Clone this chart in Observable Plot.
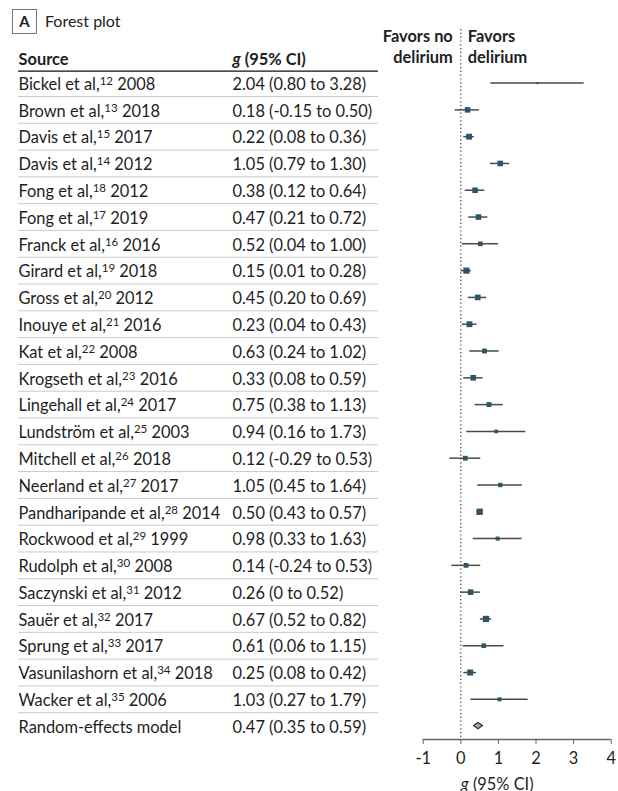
<!DOCTYPE html>
<html><head><meta charset="utf-8">
<script src="https://cdn.jsdelivr.net/npm/d3@7"></script>
<script src="https://cdn.jsdelivr.net/npm/@observablehq/plot@0.6"></script>
<style>
body{margin:0;background:#fff;font-family:Lato,sans-serif;color:#222;}
#wrap{width:618px;height:791px;position:relative;overflow:hidden;}
#title{height:28px;position:relative;}
.tag{position:absolute;left:12px;top:9px;width:25px;height:25px;border:1px solid #777;box-sizing:border-box;font-weight:bold;font-size:15px;text-align:center;line-height:23px;}
.tt{position:absolute;left:45px;top:11px;font-size:16px;}
#row{display:flex;}
#row svg{display:block;}
</style></head>
<body>
<div id="wrap"><div id="title"><span class="tag">A</span><span class="tt">Forest plot</span></div><div id="row"></div></div>
<script>
// ---- data ----
const sources = ["Bickel et al","Brown et al","Davis et al","Davis et al","Fong et al","Fong et al","Franck et al","Girard et al","Gross et al","Inouye et al","Kat et al","Krogseth et al","Lingehall et al","Lundström et al","Mitchell et al","Neerland et al","Pandharipande et al","Rockwood et al","Rudolph et al","Saczynski et al","Sauër et al","Sprung et al","Vasunilashorn et al","Wacker et al"];
const refs = [12,13,15,14,18,17,16,19,20,21,22,23,24,25,26,27,28,29,30,31,32,33,34,35];
const years = [2008,2018,2017,2012,2012,2019,2016,2018,2012,2016,2008,2016,2017,2003,2018,2017,2014,1999,2008,2012,2017,2017,2018,2006];
const estimates = [2.04,0.18,0.22,1.05,0.38,0.47,0.52,0.15,0.45,0.23,0.63,0.33,0.75,0.94,0.12,1.05,0.50,0.98,0.14,0.26,0.67,0.61,0.25,1.03];
const lower = [0.80,-0.15,0.08,0.79,0.12,0.21,0.04,0.01,0.20,0.04,0.24,0.08,0.38,0.16,-0.29,0.45,0.43,0.33,-0.24,0,0.52,0.06,0.08,0.27];
const upper = [3.28,0.50,0.36,1.30,0.64,0.72,1.00,0.28,0.69,0.43,1.02,0.59,1.13,1.73,0.53,1.64,0.57,1.63,0.53,0.52,0.82,1.15,0.42,1.79];
const ciLabels = ["2.04 (0.80 to 3.28)","0.18 (-0.15 to 0.50)","0.22 (0.08 to 0.36)","1.05 (0.79 to 1.30)","0.38 (0.12 to 0.64)","0.47 (0.21 to 0.72)","0.52 (0.04 to 1.00)","0.15 (0.01 to 0.28)","0.45 (0.20 to 0.69)","0.23 (0.04 to 0.43)","0.63 (0.24 to 1.02)","0.33 (0.08 to 0.59)","0.75 (0.38 to 1.13)","0.94 (0.16 to 1.73)","0.12 (-0.29 to 0.53)","1.05 (0.45 to 1.64)","0.50 (0.43 to 0.57)","0.98 (0.33 to 1.63)","0.14 (-0.24 to 0.53)","0.26 (0 to 0.52)","0.67 (0.52 to 0.82)","0.61 (0.06 to 1.15)","0.25 (0.08 to 0.42)","1.03 (0.27 to 1.79)"];
const weights = [0.7,4.5,5.0,4.6,4.6,4.6,3.2,5.6,4.7,5.0,3.5,4.6,3.6,2.0,3.3,2.8,6.0,2.4,3.4,4.6,5.8,3.2,5.4,2.4];
const pooledLabel = "Random-effects model";
const pooledEst = 0.47, pooledLo = 0.35, pooledHi = 0.59;
const pooledCiLabel = "0.47 (0.35 to 0.59)";
const xTicks = [-1,0,1,2,3,4];
const headers = ["Source","g (95% CI)"];
const axisLabel = "g (95% CI)";
const favorsLeft = "Favors no\ndelirium", favorsRight = "Favors\ndelirium";

// ---- tables built from arrays ----
const studies = sources.map((s,i)=>({i, label:`${s},${refs[i]} ${years[i]}`, ci:ciLabels[i], est:estimates[i], lo:lower[i], hi:upper[i], w:weights[i]}));
const pooledRow = {i: studies.length, label: pooledLabel, ci: pooledCiLabel, est: pooledEst, lo: pooledLo, hi: pooledHi};
const allRows = [...studies, pooledRow];
const dh = 0.12; // diamond half-height in row units
const diamond = [
  {x: pooledLo, y1: pooledRow.i, y2: pooledRow.i},
  {x: pooledEst, y1: pooledRow.i - dh, y2: pooledRow.i + dh},
  {x: pooledHi, y1: pooledRow.i, y2: pooledRow.i}
];

const H = 763, MT = 1, MB = 52;
const yOpt = {type:"linear", domain:[-2, 24.5], reverse:true, axis:null};
const font = {fontFamily:"Lato, sans-serif", fontSize:"16.4px", color:"#222", background:"white", overflow:"visible"};
const ink = "#1e1e1e";

const table = Plot.plot({
  width: 400, height: H, marginTop: MT, marginBottom: MB, marginLeft: 18, marginRight: 22,
  x: {type:"point", domain:["source","ci"], range:[18, 232], padding:0, align:0, axis:null},
  y: yOpt,
  style: font,
  marks: [
    Plot.ruleY(allRows.slice(0,-1), {y: d => d.i + 0.5, stroke:"#c9c9c9", strokeWidth:1}),
    Plot.ruleY([-0.45], {stroke:"#111", strokeWidth:1.3}),
    Plot.text(headers, {x:["source","ci"], y:-0.9, dy:1, text:d=>d, textAnchor:"start", fontWeight:"bold", fill:ink}),
    Plot.text(allRows, {x:()=>"source", y:"i", dy:1.5, text:"label", textAnchor:"start", fill:ink}),
    Plot.text(allRows, {x:()=>"ci", y:"i", dy:1.5, text:"ci", textAnchor:"start", fill:ink})
  ]
});

const forest = Plot.plot({
  width: 218, height: H, marginTop: MT, marginBottom: MB, marginLeft: 22.7, marginRight: 7.3,
  x: {domain:[-1,4], axis:null},
  y: yOpt,
  r: {type:"sqrt", domain:[0,6], range:[0,3.6]},
  style: font,
  marks: [
    Plot.ruleX([0], {stroke:"#333", strokeDasharray:"1.2,2.6", strokeWidth:1.2}),
    Plot.ruleY([24.5], {stroke:"#666", strokeWidth:1.3}),
    Plot.axisX({ticks:xTicks, tickSize:5, tickPadding:8, tickFormat:d=>String(d), label:null, fontSize:16.4, stroke:"#666", fill:ink}),
    Plot.ruleY(studies, {y:"i", x1:"lo", x2:"hi", stroke:"#4a4a4a", strokeWidth:1.5}),
    Plot.dot(studies, {x:"est", y:"i", r:"w", symbol:"square", fill:"#2c5566", stroke:"none"}),
    Plot.areaY(diamond, {x:"x", y1:"y1", y2:"y2", fill:"#8fb0bf", stroke:"#333", strokeWidth:1.2}),
    Plot.text([favorsLeft], {x:0, y:-1.4, text:d=>d, textAnchor:"end", dx:-8, fontWeight:"bold", lineHeight:1.28, fill:ink}),
    Plot.text([favorsRight], {x:0, y:-1.4, text:d=>d, textAnchor:"start", dx:7, fontWeight:"bold", lineHeight:1.28, fill:ink}),
    Plot.text([axisLabel], {frameAnchor:"bottom", dy:50, dx:-20, text:d=>d, fill:ink})
  ]
});

const row = document.getElementById("row");
row.appendChild(table);
row.appendChild(forest);

// superscript reference numbers and italic g
const NS = "http://www.w3.org/2000/svg";
function ts(txt, attrs){ const t = document.createElementNS(NS,"tspan"); t.textContent = txt; for (const k in attrs) t.setAttribute(k, attrs[k]); return t; }
document.querySelectorAll("#row text").forEach(el => {
  if (el.querySelector("tspan")) return;
  const s = el.textContent;
  const m = s.match(/^(.*?,)(\d+)( \d{4})$/);
  if (m) {
    el.textContent = "";
    el.appendChild(ts(m[1], {}));
    el.appendChild(ts(m[2], {"font-size":"11.5px", dy:"-5"}));
    el.appendChild(ts(m[3], {dy:"5"}));
  } else if (s === axisLabel) {
    el.textContent = "";
    el.appendChild(ts("g", {"font-style":"italic"}));
    el.appendChild(ts(" (95% CI)", {}));
  }
});
</script>
</body></html>
